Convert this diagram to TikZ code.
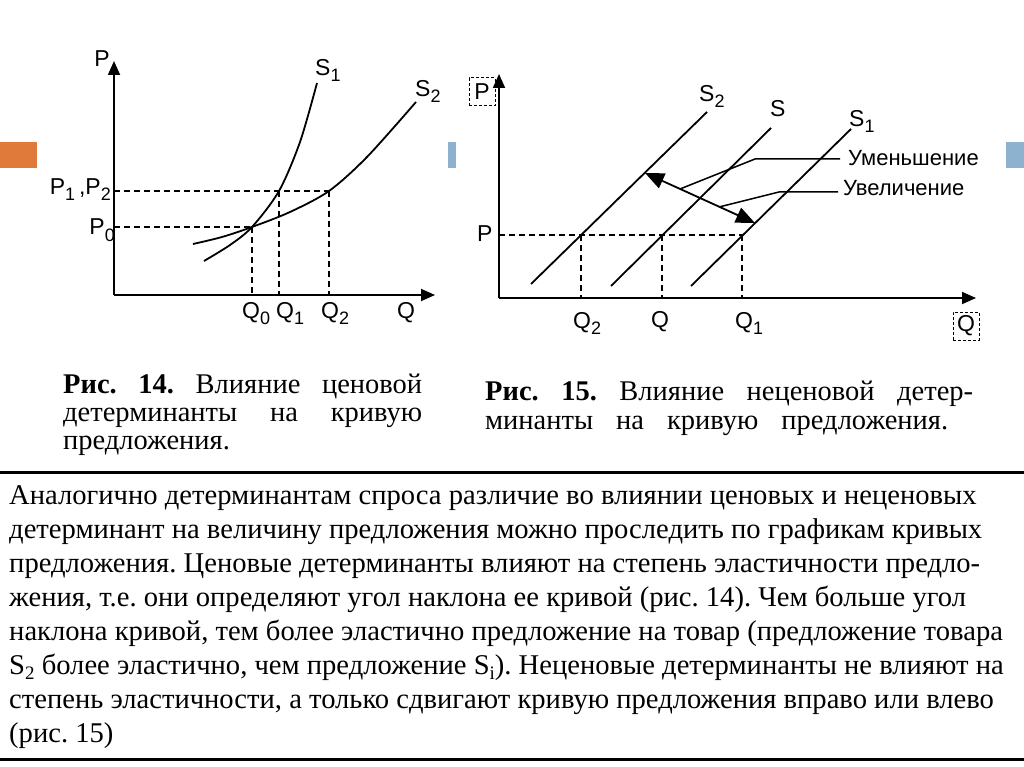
\documentclass[tikz,border=0pt]{standalone}
\usepackage{fontspec}
\setmainfont{Liberation Serif}
\newfontfamily\lblfont{Liberation Sans}
\usetikzlibrary{arrows.meta}
\definecolor{accorange}{RGB}{224,122,58}
\definecolor{accblue}{RGB}{140,178,208}
\newcommand{\lowsub}[1]{\raisebox{-6pt}{\fontsize{18}{18}\selectfont #1}}
\newcommand{\txtsub}[1]{\raisebox{-5pt}{\fontsize{19}{19}\selectfont #1}}
\frenchspacing
\begin{document}
\begin{tikzpicture}[x=1pt,y=-1pt,
  axisline/.style={line width=1.8pt,-{Triangle[length=14pt,width=12pt]}},
  curveline/.style={line width=1.8pt},
  guide/.style={line width=1.4pt,dash pattern=on 6pt off 4pt},
  leader/.style={line width=1.5pt},
  lbl/.style={font=\lblfont\fontsize{23}{26}\selectfont,inner sep=0pt,anchor=base west},
  leadtext/.style={font=\lblfont\fontsize{22}{24}\selectfont,inner sep=0pt,anchor=base west},
  boxlbl/.style={font=\lblfont\fontsize{23}{26}\selectfont,inner sep=0pt,draw,line width=1pt,dash pattern=on 3pt off 2pt},
  captext/.style={font=\fontsize{28.5}{30}\selectfont,inner sep=0pt,anchor=base west},
  bodytext/.style={font=\fontsize{28.6}{34}\selectfont,inner sep=0pt,anchor=base west},
  hrule/.style={line width=3pt}]
\fill[white] (0,0) rectangle (1024,767);
\path[use as bounding box] (0,0) rectangle (1024,767);

% accent rectangles
\fill[accorange] (0,142) rectangle (37,168);
\fill[accblue] (448,142) rectangle (456,168);
\fill[accblue] (1006,142) rectangle (1024,168);

% ---------------- left graph ----------------
\coordinate (LO) at (114,295);
\coordinate (LY) at (114,61);
\coordinate (LX) at (435,295);
\draw[axisline] (LO) -- (LY);
\draw[axisline] (LO) -- (LX);

\coordinate (E0) at (252,227);
\coordinate (E1) at (279,191);
\coordinate (E2) at (329,191);
\coordinate (LP12) at (114,191);
\coordinate (LP0) at (114,227);
\coordinate (LQ0) at (252,295);
\coordinate (LQ1) at (279,295);
\coordinate (LQ2) at (329,295);

\draw[guide] (LP12) -- (E2);
\draw[guide] (LP0) -- (E0);
\draw[guide] (E0) -- (LQ0);
\draw[guide] (E1) -- (LQ1);
\draw[guide] (E2) -- (LQ2);

\draw[curveline] plot[smooth] coordinates {(204,261) (230,245) (252,227) (279,191) (300,142) (317,83)};
\draw[curveline] plot[smooth] coordinates {(193,244) (222,237) (252,227) (290,212) (329,191) (367,157) (416,102)};

\node[lbl,anchor=base] (Lp) at (102,67) {P};
\node[lbl] (Ls1) at (315,76) {S\lowsub{1}};
\node[lbl] (Ls2) at (415,97) {S\lowsub{2}};
\node[lbl,anchor=base east] (Lp12) at (111,195) {P\lowsub{1}\,,P\lowsub{2}};
\node[lbl,anchor=base east] (Lp0) at (115,235) {P\lowsub{0}};
\node[lbl] (Lq0) at (242,318) {Q\lowsub{0}};
\node[lbl] (Lq1) at (276,318) {Q\lowsub{1}};
\node[lbl] (Lq2) at (321,318) {Q\lowsub{2}};
\node[lbl] (Lq) at (397,318) {Q};

% ---------------- right graph ----------------
\coordinate (RO) at (499,298);
\coordinate (RY) at (499,74);
\coordinate (RX) at (976,298);
\draw[axisline] (RO) -- (RY);
\draw[axisline] (RO) -- (RX);

\coordinate (s2a) at (531,284);
\coordinate (s2b) at (707,112);
\coordinate (sa) at (611,286);
\coordinate (sb) at (771,128);
\coordinate (s1a) at (691,286);
\coordinate (s1b) at (851,129);
\draw[curveline] (s2a) -- (s2b);
\draw[curveline] (sa) -- (sb);
\draw[curveline] (s1a) -- (s1b);

\coordinate (RP) at (499,235);
\coordinate (F2) at (581,235);
\coordinate (F) at (662,235);
\coordinate (F1) at (742,235);
\coordinate (RQ2) at (581,298);
\coordinate (RQ) at (662,298);
\coordinate (RQ1) at (742,298);
\draw[guide] (RP) -- (F1);
\draw[guide] (F2) -- (RQ2);
\draw[guide] (F) -- (RQ);
\draw[guide] (F1) -- (RQ1);

\coordinate (A1) at (645,173);
\coordinate (A2) at (755,223);
\draw[line width=1.8pt,{Triangle[length=19pt,width=16pt]}-{Triangle[length=19pt,width=16pt]}] (A1) -- (A2);

\node[boxlbl,minimum width=26pt,minimum height=28pt] (Rpbox) at (482,92) {P};
\node[boxlbl,minimum width=26pt,minimum height=28pt] (Rqbox) at (966,326) {Q};
\node[lbl] (Rs2) at (699,102) {S\lowsub{2}};
\node[lbl] (Rs) at (770,117) {S};
\node[lbl] (Rs1) at (849,127) {S\lowsub{1}};
\node[lbl] (Rp) at (477,241) {P};
\node[lbl] (Rq2) at (573,328) {Q\lowsub{2}};
\node[lbl] (Rq) at (651,327) {Q};
\node[lbl] (Rq1) at (735,328) {Q\lowsub{1}};

\node[leadtext] (dec) at (848,166) {Уменьшение};
\node[leadtext] (inc) at (843,196) {Увеличение};
\coordinate (decK) at (755,159);
\coordinate (decE) at (680,189);
\coordinate (incK) at (779,192);
\coordinate (incE) at (719,207);
\coordinate (decS) at (840,159);
\coordinate (incS) at (838,192);
\draw[leader] (decS) -- (decK) -- (decE);
\draw[leader] (incS) -- (incK) -- (incE);

% ---------------- captions ----------------
\node[captext] (c14a) at (63,393) {\makebox[359pt][s]{\textbf{Рис. 14.} Влияние ценовой}};
\node[captext] (c14b) at (63,421) {\makebox[359pt][s]{детерминанты на кривую}};
\node[captext] (c14c) at (63,449) {предложения.};
\node[captext] (c15a) at (485,400) {\makebox[488pt][s]{\textbf{Рис. 15.} Влияние неценовой детер-}};
\node[captext] (c15b) at (485,429) {\makebox[463pt][s]{минанты на кривую предложения.}};

% ---------------- text block ----------------
\draw[hrule] (0,472) -- (1024,472);
\draw[hrule] (0,759) -- (1024,759);
\node[bodytext] (t1) at (9,504) {Аналогично детерминантам спроса различие во влиянии ценовых и неценовых};
\node[bodytext] (t2) at (9,538) {детерминант на величину предложения можно проследить по графикам кривых};
\node[bodytext] (t3) at (9,572) {предложения. Ценовые детерминанты влияют на степень эластичности предло-};
\node[bodytext] (t4) at (9,606) {жения, т.е. они определяют угол наклона ее кривой (рис. 14). Чем больше угол};
\node[bodytext] (t5) at (9,640) {наклона кривой, тем более эластично предложение на товар (предложение товара};
\node[bodytext] (t6) at (9,674) {S\txtsub{2} более эластично, чем предложение S\txtsub{i}). Неценовые детерминанты не влияют на};
\node[bodytext] (t7) at (9,708) {степень эластичности, а только сдвигают кривую предложения вправо или влево};
\node[bodytext] (t8) at (9,742) {(рис. 15)};
\end{tikzpicture}
\end{document}
